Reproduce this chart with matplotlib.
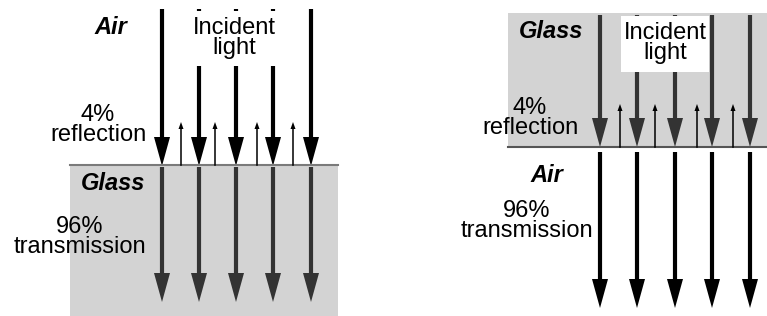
import matplotlib.pyplot as plt
from matplotlib.patches import Rectangle

plt.rcParams['font.family'] = ['Liberation Sans', 'DejaVu Sans']

# beam positions (pixel-like coordinates, y grows downward)
left_beams = [162, 199, 236, 273, 311]
left_refl = [181, 215, 257, 293]
right_beams = [600, 637, 675, 712, 750]
right_refl = [620, 655, 697, 733]

fig = plt.figure(figsize=(7.67, 3.16), dpi=100)
ax = fig.add_axes([0, 0, 1, 1])
ax.set_xlim(0, 767)
ax.set_ylim(316, 0)
ax.axis('off')

def down_arrow(x, y0, y1, color, lw=3.0, hw=8, hl=29):
    ax.plot([x, x], [y0, y1 - hl + 2], color=color, lw=lw, solid_capstyle='butt')
    ax.fill([x - hw, x + hw, x], [y1 - hl, y1 - hl, y1], color=color, lw=0)

def up_arrow(x, y0, y1, color='black'):
    ax.plot([x, x], [y0, y1 + 6], color=color, lw=1.1)
    ax.fill([x - 2.5, x + 2.5, x], [y1 + 7, y1 + 7, y1], color=color, lw=0)

fs = 17
ls = 0.9

# ---- left panel: air above glass
ax.add_patch(Rectangle((70, 165), 268, 151, color='#d3d3d3', lw=0))
ax.plot([70, 338], [165, 165], color='#7a7a7a', lw=1.5)
for x in left_beams:
    down_arrow(x, 9, 166, 'black')
    down_arrow(x, 167, 302, '#333333')
for x in left_refl:
    up_arrow(x, 165, 122)
ax.add_patch(Rectangle((184, 11), 102, 55, color='white', lw=0, zorder=2))
ax.text(234, 38, 'Incident\nlight', ha='center', va='center', fontsize=fs,
        linespacing=ls, zorder=3)
ax.text(111, 28, 'Air', ha='center', va='center', fontsize=fs,
        fontweight='bold', fontstyle='italic')
ax.text(98, 125, '4%\nreflection', ha='center', va='center', fontsize=fs,
        linespacing=ls)
ax.text(113, 184, 'Glass', ha='center', va='center', fontsize=fs,
        fontweight='bold', fontstyle='italic')
ax.text(80, 237, '96%\ntransmission', ha='center', va='center', fontsize=fs,
        linespacing=ls)

# ---- right panel: glass above air
ax.add_patch(Rectangle((508, 13), 259, 134, color='#d3d3d3', lw=0))
ax.plot([508, 767], [147, 147], color='#555555', lw=1.5)
for x in right_beams:
    down_arrow(x, 15, 147, '#333333')
    down_arrow(x, 152, 308, 'black')
for x in right_refl:
    up_arrow(x, 147, 104)
ax.add_patch(Rectangle((621, 16), 88, 56, color='white', lw=0, zorder=2))
ax.text(665, 43, 'Incident\nlight', ha='center', va='center', fontsize=fs,
        linespacing=ls, zorder=3)
ax.text(551, 32, 'Glass', ha='center', va='center', fontsize=fs,
        fontweight='bold', fontstyle='italic')
ax.text(530, 118, '4%\nreflection', ha='center', va='center', fontsize=fs,
        linespacing=ls)
ax.text(547, 175, 'Air', ha='center', va='center', fontsize=fs,
        fontweight='bold', fontstyle='italic')
ax.text(527, 221, '96%\ntransmission', ha='center', va='center', fontsize=fs,
        linespacing=ls)

fig.savefig('out.png', dpi=100)
